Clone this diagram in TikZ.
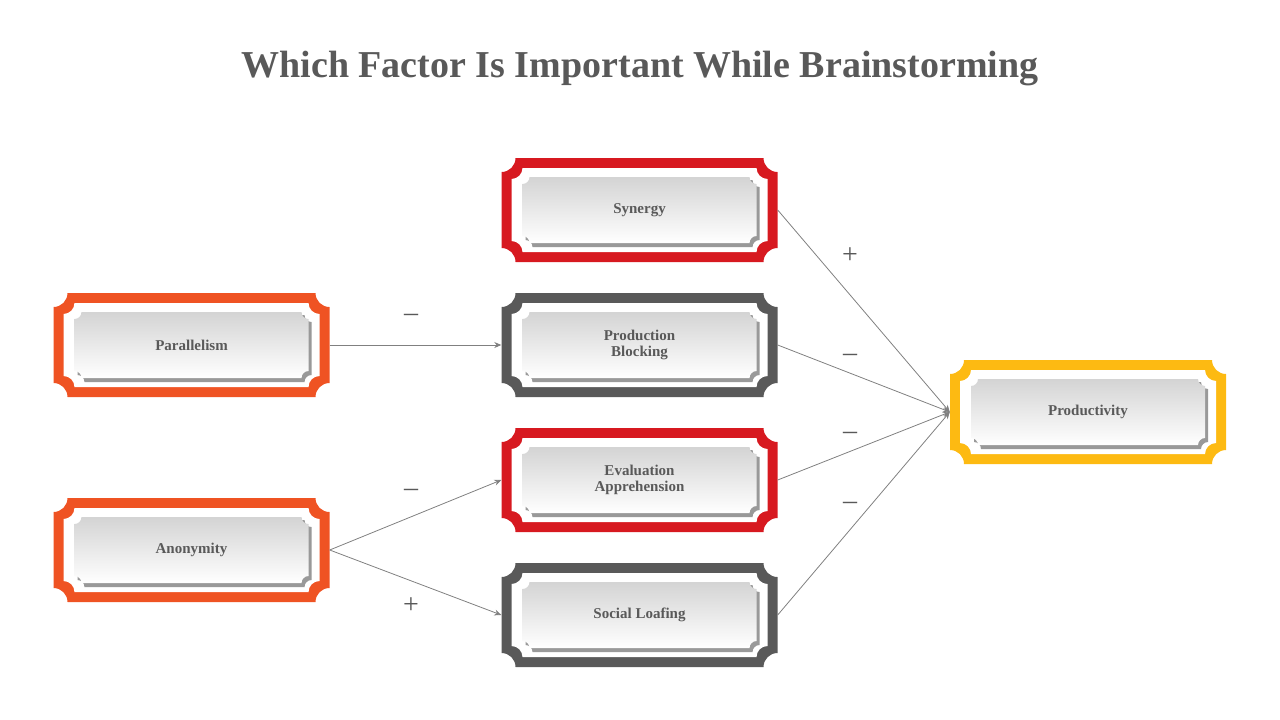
\documentclass[tikz,border=0pt]{standalone}
\usepackage{fontspec}
\setmainfont{Liberation Serif}
\usetikzlibrary{arrows.meta}
\definecolor{cred}{HTML}{D71920}
\definecolor{corange}{HTML}{EF5323}
\definecolor{cgray}{HTML}{595959}
\definecolor{cyel}{HTML}{FDBA12}
\definecolor{txt}{HTML}{595959}
\newcommand\cpath[5]{% x0 y0 x1 y1 r  (y0 top, y down)
  (#1+#5,#2) -- (#3-#5,#2) arc[start angle=180,end angle=90,radius=#5]
  -- (#3,#4-#5) arc[start angle=270,end angle=180,radius=#5]
  -- (#1+#5,#4) arc[start angle=0,end angle=-90,radius=#5]
  -- (#1,#2+#5) arc[start angle=90,end angle=0,radius=#5] -- cycle}
\newcommand\tagbox[5]{% name cx cy color text
  \pgfmathsetmacro\xa{#2-138}\pgfmathsetmacro\xb{#2+138}
  \pgfmathsetmacro\ya{#3-52}\pgfmathsetmacro\yb{#3+52}
  \fill[#4] \cpath{\xa}{\ya}{\xb}{\yb}{14};
  \fill[white] \cpath{\xa+10}{\ya+10}{\xb-10}{\yb-10}{11};
  \fill[black!40] \cpath{\xa+24}{\ya+22}{\xb-18}{\yb-15}{7};
  \shade[top color=black!17,bottom color=white] \cpath{\xa+21}{\ya+19}{\xb-21}{\yb-19}{7};
  \node[lbl] (#1) at (#2,#3) {#5};}
\begin{document}
\begin{tikzpicture}[x=1pt,y=-1pt,
  lbl/.style={text=txt,font=\bfseries\fontsize{15}{16}\selectfont,align=center,minimum width=276pt,minimum height=104pt,inner sep=0},
  conn/.style={draw=black!50,line width=0.8pt,-{Stealth[length=7pt,width=6pt]}},
  sign/.style={text=txt,font=\fontsize{28}{28}\selectfont}]
\useasboundingbox (0,0) rectangle (1280,720);
\node[text=txt,font=\bfseries\fontsize{38}{40}\selectfont] (title) at (640,69) {Which Factor Is Important While Brainstorming};
\tagbox{syn}{639.5}{210}{cred}{Synergy}
\tagbox{prod}{639.5}{345}{cgray}{Production\\Blocking}
\tagbox{eval}{639.5}{480}{cred}{Evaluation\\Apprehension}
\tagbox{soc}{639.5}{615}{cgray}{Social Loafing}
\tagbox{par}{191.5}{345}{corange}{Parallelism}
\tagbox{ano}{191.5}{550}{corange}{Anonymity}
\tagbox{pty}{1088}{412}{cyel}{Productivity}
\draw[conn] (par.east) -- (prod.west);
\draw[conn] (ano.east) -- (eval.west);
\draw[conn] (ano.east) -- (soc.west);
\draw[conn] (syn.east) -- (pty.west);
\draw[conn] (prod.east) -- (pty.west);
\draw[conn] (eval.east) -- (pty.west);
\draw[conn] (soc.east) -- (pty.west);
\node[sign] (s1) at (411,318) {–};
\node[sign] (s2) at (411,493) {–};
\node[sign] (s3) at (411,606) {+};
\node[sign] (s4) at (850,256) {+};
\node[sign] (s5) at (850,358) {–};
\node[sign] (s6) at (850,436) {–};
\node[sign] (s7) at (850,506) {–};
\end{tikzpicture}
\end{document}
